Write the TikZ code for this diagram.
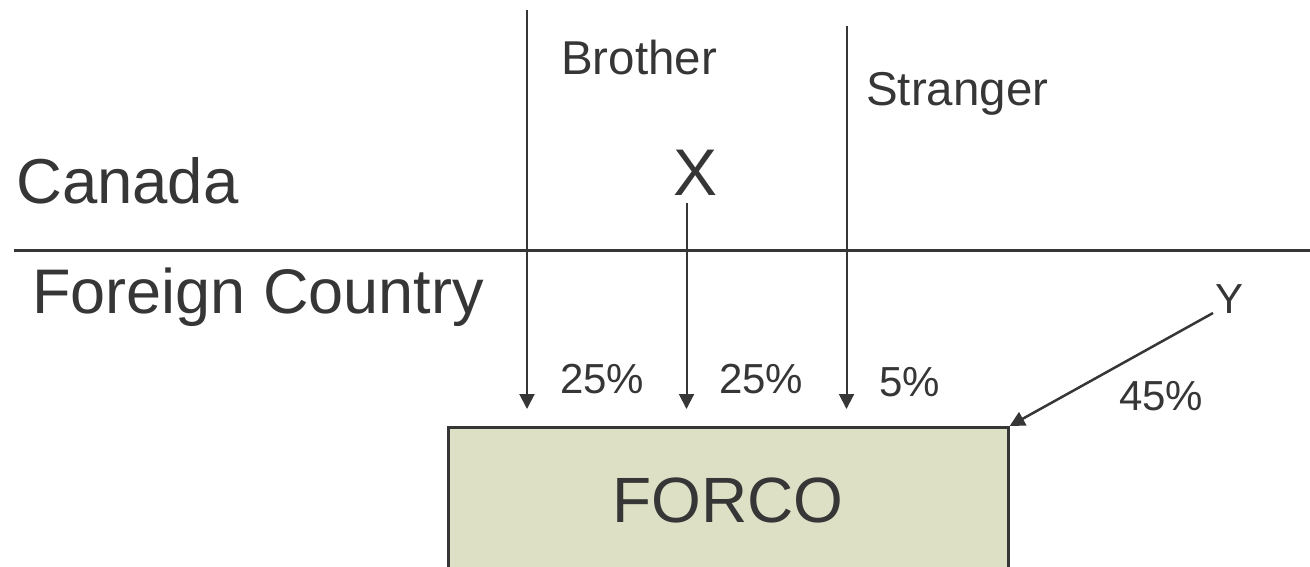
\documentclass[tikz,border=0pt]{standalone}
\usepackage{fontspec}
\setmainfont{Liberation Sans}
\usetikzlibrary{arrows.meta}
\definecolor{ink}{HTML}{363636}
\definecolor{boxfill}{HTML}{DDE0C5}
\tikzset{
  lbl/.style={inner sep=0pt, anchor=base west, text=ink},
  big/.style={lbl, font=\fontsize{63.5}{70}\selectfont},
  mid/.style={lbl, font=\fontsize{47.5}{54}\selectfont},
  pct/.style={lbl, font=\fontsize{42}{48}\selectfont},
  flow/.style={draw=ink, line width=2pt, -{Triangle[length=15pt, width=15pt]}},
  border/.style={draw=ink, line width=3pt},
  company/.style={draw=ink, line width=2.7pt, fill=boxfill, inner sep=0pt,
    minimum width=560pt, minimum height=200pt, anchor=north west}
}
\begin{document}
\begin{tikzpicture}[x=1pt, y=-1pt]
  \useasboundingbox (0,0) rectangle (1310,566);
  \clip (0,0) rectangle (1310,566);

  % jurisdiction labels and border line
  \node[big] (canada) at (16,203) {Canada};
  \node[big, font=\fontsize{63}{70}\selectfont] (foreign) at (32,313) {Foreign Country};
  \coordinate (borderW) at (14,250);
  \coordinate (borderE) at (1312,250);
  \draw[border] (borderW) -- (borderE);

  % shareholders
  \node[mid] (brother) at (561,74) {Brother};
  \node[mid] (stranger) at (866,105) {Stranger};
  \node[lbl, anchor=base, font=\fontsize{66}{74}\selectfont] (x) at (696,195) {X};
  \node[pct] (y) at (1215,313) {Y};

  % the foreign company
  \node[company] (forco) at (447,426) {};
  \node[lbl, anchor=base, font=\fontsize{64}{72}\selectfont] (forcotext) at (728,522) {FORCO};

  % ownership lines
  \coordinate (brotherTop) at (527,10);
  \coordinate (brotherTip) at (527,409);
  \coordinate (xTop) at (686.5,203);
  \coordinate (xTip) at (686.5,409);
  \coordinate (strangerTop) at (846.5,26);
  \coordinate (strangerTip) at (846.5,409);
  \coordinate (yStart) at (1213,313);
  \draw[flow] (brotherTop) -- (brotherTip);
  \draw[flow] (xTop) -- (xTip);
  \draw[flow] (strangerTop) -- (strangerTip);
  \draw[flow, line width=2.5pt] (yStart) -- (forco.north east);

  % percentages held
  \node[pct] (pctBrother) at (560,393) {25\%};
  \node[pct] (pctX) at (719,393) {25\%};
  \node[pct] (pctStranger) at (879,396) {5\%};
  \node[pct] (pctY) at (1119,410) {45\%};
\end{tikzpicture}
\end{document}
